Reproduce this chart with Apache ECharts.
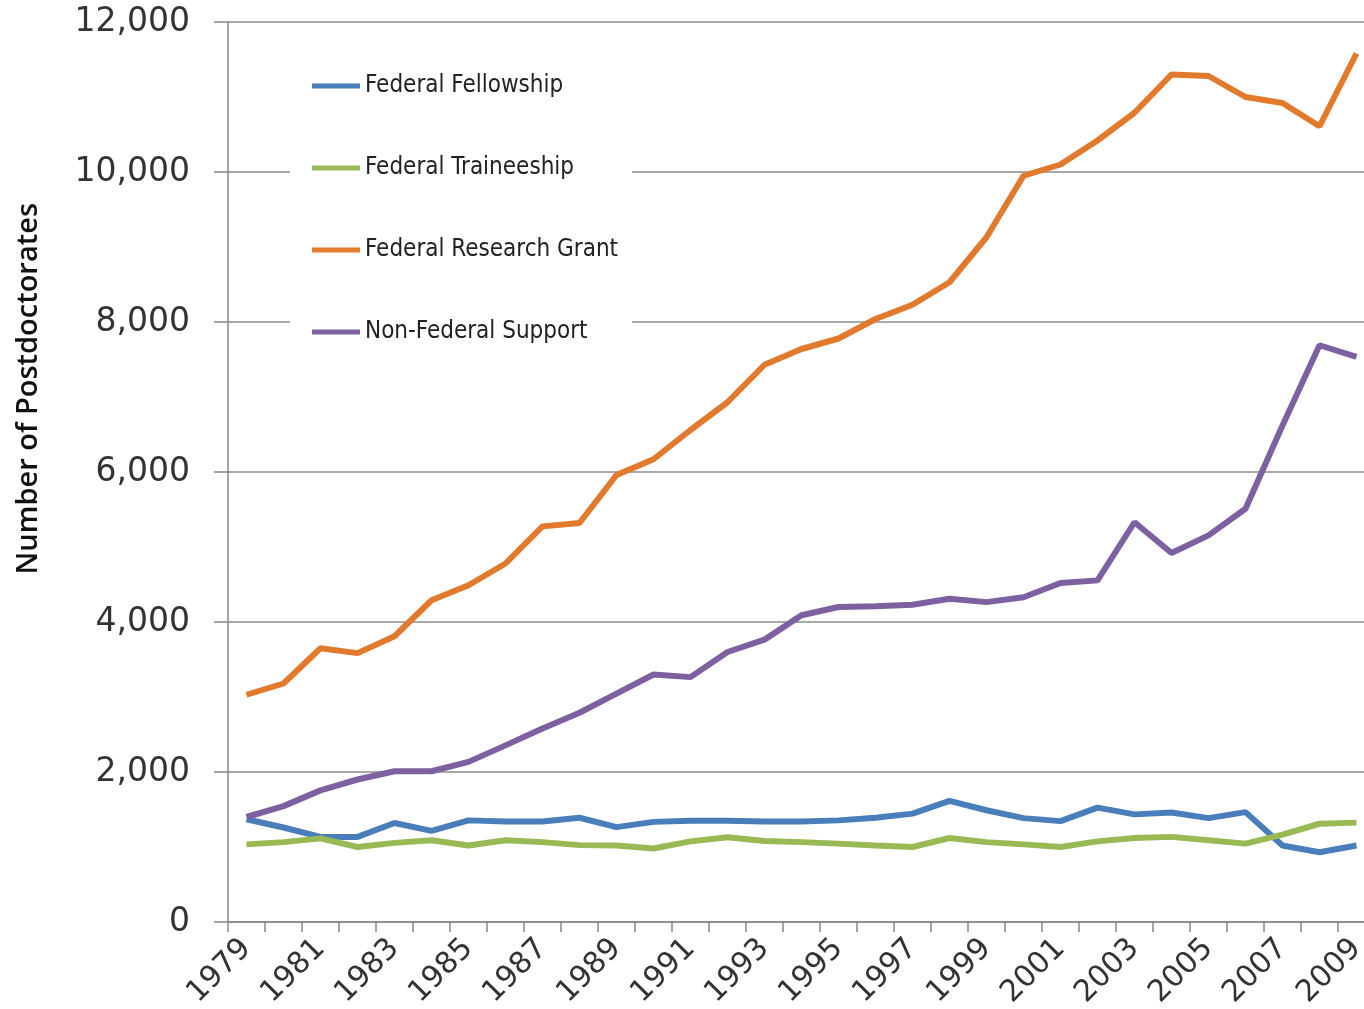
<!DOCTYPE html>
<html>
<head>
<meta charset="utf-8">
<script src="https://cdn.jsdelivr.net/npm/echarts@6/dist/echarts.min.js"></script>
<style>
  html, body { margin: 0; padding: 0; background: #fff; }
  #chart { width: 1364px; height: 1009px; }
</style>
</head>
<body>
<div id="chart"></div>
<script>
// years on the x axis
var years = [];
for (var y = 1979; y <= 2009; y++) years.push(String(y));

// values
var fellowship = [1370, 1260, 1135, 1135, 1320, 1215, 1355, 1340, 1340, 1390, 1265, 1335, 1350, 1350, 1340,
  1340, 1355, 1390, 1445, 1615, 1490, 1385, 1345, 1525, 1435, 1460, 1385, 1465, 1020, 930, 1020];
var traineeship = [1035, 1065, 1115, 1000, 1055, 1090, 1020, 1090, 1065, 1025, 1020, 980, 1075, 1130, 1080,
  1065, 1045, 1020, 1000, 1120, 1065, 1035, 1000, 1075, 1120, 1135, 1090, 1045, 1165, 1310, 1325];
var researchGrant = [3030, 3180, 3650, 3585, 3810, 4290, 4490, 4780, 5275, 5320, 5960, 6170, 6560, 6930, 7430,
  7640, 7780, 8040, 8230, 8530, 9130, 9950, 10100, 10420, 10790, 11300, 11280, 11000, 10920, 10610, 11580];
var nonFederal = [1400, 1545, 1755, 1900, 2010, 2010, 2135, 2355, 2580, 2790, 3045, 3300, 3265, 3600, 3765,
  4090, 4200, 4210, 4230, 4310, 4265, 4330, 4520, 4555, 5330, 4920, 5155, 5510, 6620, 7690, 7535];

var seriesNames = ['Federal Fellowship', 'Federal Traineeship', 'Federal Research Grant', 'Non-Federal Support'];
var seriesColors = ['#4A7EBB', '#98B954', '#E27A2E', '#7D60A0'];
var seriesData = [fellowship, traineeship, researchGrant, nonFederal];

var myChart = echarts.init(document.getElementById('chart'));

var option = {
  backgroundColor: '#fff',
  animation: false,
  grid: { left: 228, top: 22, bottom: 87, width: 1147, outerBoundsMode: 'none' },
  legend: {
    orient: 'vertical',
    left: 290,
    top: 44,
    padding: [28, 14, 20, 22],
    backgroundColor: '#fff',
    itemGap: 54,
    itemWidth: 48,
    itemHeight: 5,
    icon: 'rect',
    data: seriesNames,
    textStyle: {
      fontFamily: '"DejaVu Sans Condensed", sans-serif',
      fontSize: 24,
      lineHeight: 28,
      color: '#222'
    }
  },
  xAxis: {
    type: 'category',
    data: years,
    boundaryGap: true,
    axisLine: { lineStyle: { color: '#888', width: 1.5 } },
    axisTick: { show: true, length: 10, interval: 0, lineStyle: { color: '#888', width: 1.5 } },
    axisLabel: {
      interval: 1,
      rotate: 45,
      margin: 22,
      fontFamily: 'DejaVu Sans',
      fontSize: 30,
      color: '#333'
    }
  },
  yAxis: {
    type: 'value',
    min: 0,
    max: 12000,
    interval: 2000,
    axisLine: { show: true, lineStyle: { color: '#888', width: 1.5 } },
    axisTick: { show: true, length: 14, lineStyle: { color: '#888', width: 1.5 } },
    splitLine: { lineStyle: { color: '#8c8c8c', width: 1.5 } },
    axisLabel: {
      margin: 38,
      fontFamily: 'DejaVu Sans',
      fontSize: 33,
      color: '#333',
      formatter: function (v) { return v.toLocaleString('en-US'); }
    }
  },
  graphic: [{
    type: 'text',
    left: 14,
    top: 203,
    rotation: Math.PI / 2,
    style: {
      text: 'Number of Postdoctorates',
      fontFamily: '"Open Sans", sans-serif',
      fontWeight: 600,
      fontSize: 29,
      fill: '#111'
    }
  }],
  series: seriesNames.map(function (name, i) {
    return {
      name: name,
      type: 'line',
      data: seriesData[i],
      symbol: 'none',
      color: seriesColors[i],
      lineStyle: { width: 6, color: seriesColors[i] }
    };
  })
};

myChart.setOption(option);
</script>
</body>
</html>
